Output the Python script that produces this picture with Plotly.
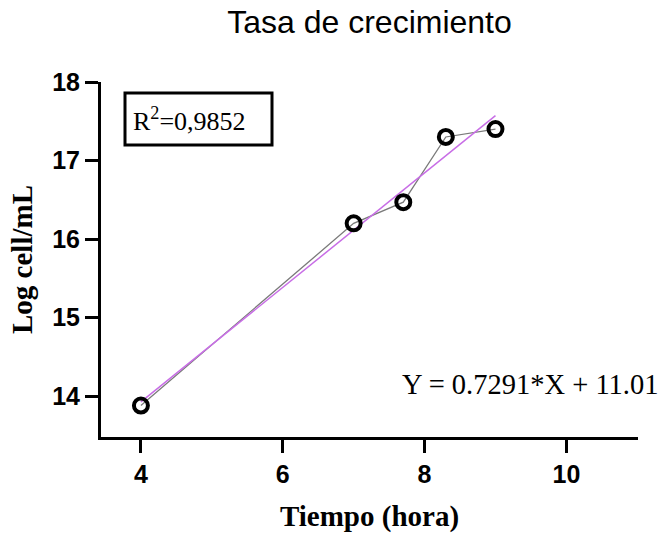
import plotly.graph_objects as go

# Growth measurements
tiempo = [4, 7, 7.7, 8.3, 9]
log_cell = [13.88, 16.20, 16.47, 17.30, 17.40]

# Linear fit reported on the chart
pendiente = 0.7291
intercepto = 11.01
r2_texto = "0,9852"

x_ticks = [4, 6, 8, 10]
y_ticks = [14, 15, 16, 17, 18]

fit_x = [min(tiempo), max(tiempo)]
fit_y = [pendiente * x + intercepto for x in fit_x]

fig = go.Figure()

# Thin grey segments joining consecutive points
fig.add_trace(go.Scatter(
    x=tiempo, y=log_cell, mode="lines",
    line=dict(color="#7a7a7a", width=1.3),
    hoverinfo="skip", showlegend=False,
))

# Regression line
fig.add_trace(go.Scatter(
    x=fit_x, y=fit_y, mode="lines",
    line=dict(color="#c86ee6", width=1.5),
    showlegend=False,
))

# Open circle markers
fig.add_trace(go.Scatter(
    x=tiempo, y=log_cell, mode="markers",
    marker=dict(symbol="circle-open", size=14, color="black",
                line=dict(width=4, color="black")),
    showlegend=False,
))

tick_font = dict(family="Liberation Sans, Arial, sans-serif", size=25,
                 color="black", weight="bold")
title_font = dict(family="Liberation Serif, Times New Roman, serif", size=29,
                  color="black", weight="bold")

fig.update_layout(
    width=666, height=533,
    margin=dict(l=101, r=28, t=82, b=96),
    paper_bgcolor="white", plot_bgcolor="white",
    title=dict(text="Tasa de crecimiento", x=0.5, xref="paper",
               y=1 - 22 / 533, yref="container", xanchor="center", yanchor="middle",
               font=dict(family="Liberation Sans, Arial, sans-serif", size=32, color="black")),
    xaxis=dict(
        range=[3.437, 11.01], tickvals=x_ticks, ticktext=[str(v) for v in x_ticks],
        showline=True, linecolor="black", linewidth=3,
        ticks="outside", ticklen=13, tickwidth=3, tickcolor="black",
        showgrid=False, zeroline=False, tickfont=tick_font, automargin=False,
        title=dict(text="Tiempo (hora)", font=title_font, standoff=20),
    ),
    yaxis=dict(
        range=[13.48, 18.0], tickvals=y_ticks, ticktext=[str(v) for v in y_ticks],
        showline=True, linecolor="black", linewidth=3,
        ticks="outside", ticklen=13, tickwidth=3, tickcolor="black",
        showgrid=False, zeroline=False, tickfont=tick_font, automargin=False,
        title=dict(text="Log cell/mL", font=title_font, standoff=12),
    ),
    shapes=[dict(
        type="rect", xref="paper", yref="paper",
        x0=(125 - 101) / 537, x1=(272 - 101) / 537,
        y0=(437 - 145) / 355, y1=(437 - 93) / 355,
        line=dict(color="black", width=3), fillcolor="rgba(0,0,0,0)",
    )],
    annotations=[
        dict(text="R<sup>2</sup>=" + r2_texto, xref="paper", yref="paper",
             x=(131 - 101) / 537, y=(437 - 120) / 355,
             xanchor="left", yanchor="middle", showarrow=False,
             font=dict(family="Liberation Serif, Times New Roman, serif", size=26, color="black")),
        dict(text=f"Y = {pendiente}*X + {intercepto}", xref="paper", yref="paper",
             x=(400 - 101) / 537, y=(437 - 384) / 355,
             xanchor="left", yanchor="middle", showarrow=False,
             font=dict(family="Liberation Serif, Times New Roman, serif", size=28.5, color="black")),
    ],
)

fig.write_html("out.html")
